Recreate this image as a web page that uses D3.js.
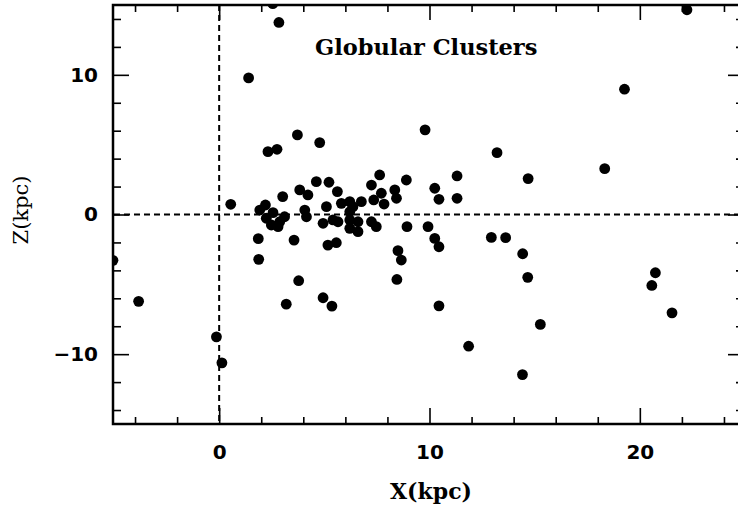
<!DOCTYPE html>
<html>
<head>
<meta charset="utf-8">
<script src="https://cdn.jsdelivr.net/npm/d3@7"></script>
<style>
  body { margin: 0; background: #fff; }
  svg { display: block; }
  .tick text { font-family: "DejaVu Sans", sans-serif; font-weight: bold; font-size: 20px; fill: #000; }
  .domain { display: none; }
</style>
</head>
<body>
<div id="box"></div>
<script>
var w = 738,
    h = 509;

// globular clusters, X and Z in kpc
var clusterX = [2.55, 2.84, 1.40, 3.72, 2.32, 2.75, 4.78, 9.79, 13.21, 19.27, 22.24,
                14.69, 18.33, 14.43, 14.67, 20.74, 20.57, 21.53, 15.27, 14.42, 11.86,
                10.45, 4.94, 5.36, 8.45, 3.19, 3.78, -3.83, -0.13, 0.13, -5.05,
                0.55, 1.86, 1.88, 3.56, 3.02, 3.83, 4.22, 4.62, 4.07, 4.15,
                2.20, 1.93, 2.56, 2.24, 2.48, 2.88, 3.11, 2.80,
                5.22, 5.62, 5.10, 4.94, 5.41, 5.65, 5.81, 6.21, 6.36, 6.76,
                6.21, 6.21, 6.60, 6.21, 6.60, 5.17, 5.57,
                7.24, 7.63, 7.71, 8.35, 8.43, 7.84, 7.35, 8.90, 7.24, 7.47, 8.93,
                10.25, 10.45, 11.31, 11.31, 9.93, 10.25, 10.45, 8.50, 8.66, 12.94, 13.62];
var clusterZ = [15.1, 13.75, 9.78, 5.70, 4.50, 4.67, 5.15, 6.06, 4.43, 8.97, 14.66,
                2.57, 3.28, -2.81, -4.50, -4.17, -5.08, -7.04, -7.87, -11.46, -9.43,
                -6.54, -5.96, -6.56, -4.65, -6.42, -4.74, -6.22, -8.76, -10.62, -3.28,
                0.73, -1.73, -3.21, -1.83, 1.28, 1.76, 1.40, 2.35, 0.32, -0.16,
                0.68, 0.32, 0.13, -0.27, -0.75, -0.52, -0.16, -0.87,
                2.31, 1.64, 0.56, -0.63, -0.39, -0.52, 0.80, 0.92, 0.56, 0.92,
                0.20, -0.39, -0.52, -0.99, -1.23, -2.19, -2.02,
                2.11, 2.83, 1.52, 1.76, 1.16, 0.75, 1.04, 2.47, -0.52, -0.87, -0.87,
                1.88, 1.09, 2.76, 1.16, -0.87, -1.71, -2.31, -2.59, -3.26, -1.64, -1.66];

var xMajor = [0, 10, 20];
var xMinor = [-4, -2, 2, 4, 6, 8, 12, 14, 16, 18, 22, 24];
var zMajor = [-10, 0, 10];
var zMinor = [-14, -12, -8, -6, -4, -2, 2, 4, 6, 8, 12, 14];

var pl = 113, pr = 744, pt = 5, pb = 424;

var x = d3.scaleLinear().domain([-5, 25]).range([pl + 1, pr + 1]);
var y = d3.scaleLinear().domain([-15, 15]).range([pb, pt]);

var svg = d3.select("#box")
            .append("svg")
            .attr("width", w)
            .attr("height", h);

svg.append("clipPath")
   .attr("id", "plot")
   .append("rect")
   .attr("x", pl)
   .attr("y", pt)
   .attr("width", pr - pl)
   .attr("height", pb - pt);

// minor and major ticks on all four sides, pointing in
function ticks(axis, vals, size, tx, ty) {
  svg.append("g")
     .attr("transform", "translate(" + tx + "," + ty + ")")
     .call(axis.tickValues(vals).tickSize(size).tickFormat(""))
     .selectAll("line")
     .attr("stroke", "#000")
     .attr("stroke-width", 1.6);
}
ticks(d3.axisBottom(x), xMinor, -7, 0, pb);
ticks(d3.axisBottom(x), xMajor, -16, 0, pb);
ticks(d3.axisTop(x), xMinor, -7, 0, pt);
ticks(d3.axisTop(x), xMajor, -15, 0, pt);
ticks(d3.axisLeft(y), zMinor, -8, pl, 0);
ticks(d3.axisLeft(y), zMajor, -16, pl, 0);
ticks(d3.axisRight(y), zMinor, -8, pr, 0);
ticks(d3.axisRight(y), zMajor, -16, pr, 0);

// tick labels
svg.append("g")
   .attr("transform", "translate(0," + pb + ")")
   .call(d3.axisBottom(x).tickValues(xMajor).tickSize(0).tickPadding(21).tickFormat(d3.format("d")))
   .selectAll("line").remove();

svg.append("g")
   .attr("transform", "translate(" + pl + ",0)")
   .call(d3.axisLeft(y).tickValues(zMajor).tickSize(0).tickPadding(15).tickFormat(function(d) {
     return d < 0 ? "\u2212" + Math.abs(d) : d;
   }))
   .selectAll("line").remove();

// frame
svg.append("rect")
   .attr("x", pl)
   .attr("y", pt)
   .attr("width", pr - pl)
   .attr("height", pb - pt)
   .attr("fill", "none")
   .attr("stroke", "#000")
   .attr("stroke-width", 2.5);

// X = 0 and Z = 0 reference lines
svg.append("line")
   .attr("x1", x(-5)).attr("x2", x(25))
   .attr("y1", y(0)).attr("y2", y(0))
   .attr("stroke", "#000")
   .attr("stroke-width", 2)
   .attr("stroke-dasharray", "6,4");

svg.append("line")
   .attr("x1", x(0)).attr("x2", x(0))
   .attr("y1", y(15)).attr("y2", y(-15))
   .attr("stroke", "#000")
   .attr("stroke-width", 2)
   .attr("stroke-dasharray", "6,4");

svg.append("g")
   .attr("clip-path", "url(#plot)")
   .selectAll("circle")
   .data(d3.range(clusterX.length))
   .enter()
   .append("circle")
   .attr("cx", function(i) {
     return x(clusterX[i]);
   })
   .attr("cy", function(i) {
     return y(clusterZ[i]);
   })
   .attr("r", 5.4)
   .attr("fill", "#000");

svg.append("text")
   .text("Globular Clusters")
   .attr("x", 315)
   .attr("y", 55)
   .attr("font-family", "DejaVu Serif, serif")
   .attr("font-weight", "bold")
   .attr("font-size", "22.5px");

svg.append("text")
   .text("X(kpc)")
   .attr("x", 431)
   .attr("y", 499)
   .attr("text-anchor", "middle")
   .attr("font-family", "DejaVu Serif, serif")
   .attr("font-weight", "bold")
   .attr("font-size", "22px");

svg.append("text")
   .text("Z(kpc)")
   .attr("transform", "translate(28,210) rotate(-90)")
   .attr("text-anchor", "middle")
   .attr("font-family", "DejaVu Serif, serif")
   .attr("font-size", "21px");
</script>
</body>
</html>
